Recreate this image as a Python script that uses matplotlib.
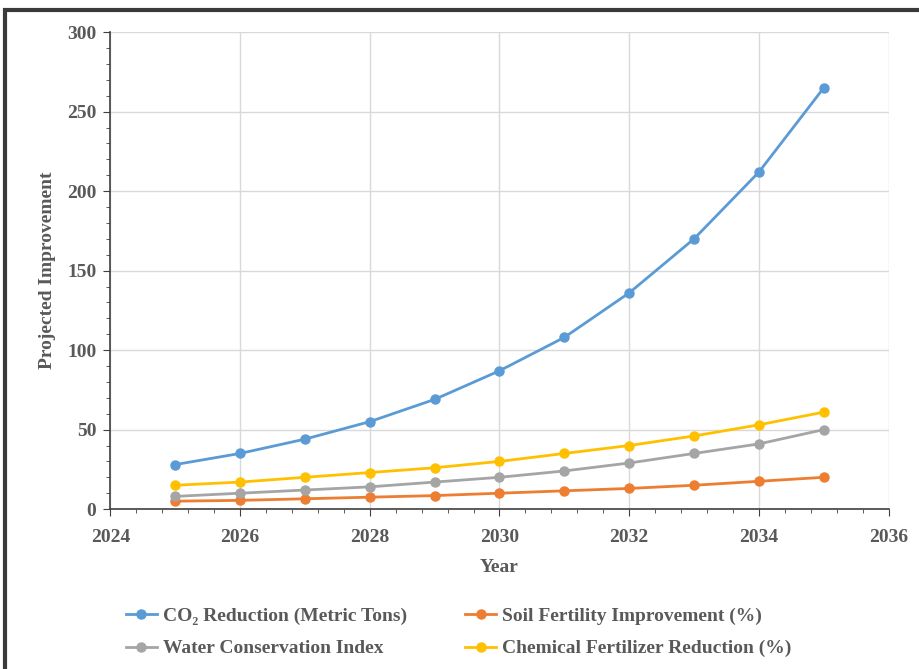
import numpy as np
import matplotlib
matplotlib.use("Agg")
import matplotlib.pyplot as plt
from matplotlib.patches import Rectangle
from matplotlib.ticker import MultipleLocator

years = [2025, 2026, 2027, 2028, 2029, 2030, 2031, 2032, 2033, 2034, 2035]
co2 = [28, 35, 44, 55, 69, 87, 108, 136, 170, 212, 265]
soil = [5, 5.5, 6.5, 7.5, 8.5, 10, 11.5, 13, 15, 17.5, 20]
water = [8, 10, 12, 14, 17, 20, 24, 29, 35, 41, 50]
chem = [15, 17, 20, 23, 26, 30, 35, 40, 46, 53, 61]

labels = ["CO\u2082 Reduction (Metric Tons)", "Soil Fertility Improvement (%)",
          "Water Conservation Index", "Chemical Fertilizer Reduction (%)"]
colors = ["#5B9BD5", "#ED7D31", "#A5A5A5", "#FFC000"]

plt.rcParams["font.family"] = ["Liberation Serif", "DejaVu Serif"]
plt.rcParams["font.weight"] = "bold"

text_col = "#595959"

fig = plt.figure(figsize=(9.19, 6.69), dpi=100)
ax = fig.add_axes([0.12, 0.239, 0.847, 0.713])

# chart frame
fig.patches.append(Rectangle((5 / 919, -0.1), 1.2, 1 - 10 / 669 + 0.1,
                             transform=fig.transFigure, fill=False,
                             edgecolor="#3a3a3a", linewidth=3))

lines = []
for vals, lab, c in zip([co2, soil, water, chem], labels, colors):
    ln, = ax.plot(years, vals, color=c, linewidth=2, marker="o",
                  markersize=6.5, label=lab)
    lines.append(ln)

ax.set_xlim(2024, 2036)
ax.set_ylim(0, 300)
ax.xaxis.set_major_locator(MultipleLocator(2))
ax.xaxis.set_minor_locator(MultipleLocator(0.4))
ax.yaxis.set_major_locator(MultipleLocator(50))
ax.yaxis.set_minor_locator(MultipleLocator(10))
ax.grid(True, which="major", color="#D9D9D9", linewidth=1)
ax.set_axisbelow(True)

for s in ["top", "right"]:
    ax.spines[s].set_visible(False)
for s in ["left", "bottom"]:
    ax.spines[s].set_color("#404040")
    ax.spines[s].set_linewidth(1.2)

ax.tick_params(which="major", length=5, color="#404040", labelsize=14,
               labelcolor=text_col, direction="out", pad=5)
ax.tick_params(axis="x", which="major", pad=9)
ax.tick_params(which="minor", length=3, color="#404040")
for t in ax.get_xticklabels() + ax.get_yticklabels():
    t.set_fontweight("bold")

ax.set_xlabel("Year", fontsize=14, color=text_col, fontweight="bold", labelpad=10)
ax.set_ylabel("Projected Improvement", fontsize=14, color=text_col,
              fontweight="bold", labelpad=8)

# legend rows: CO2 | Soil, Water | Chemical (matplotlib fills by column)
order = [0, 2, 1, 3]
fig.legend(handles=[lines[i] for i in order], loc="upper left",
           bbox_to_anchor=(0.118, 0.118), ncol=2, frameon=False,
           labelcolor=text_col, columnspacing=3.0, handlelength=1.6,
           handletextpad=0.3, labelspacing=0.75,
           prop={"weight": "bold", "size": 14})

fig.savefig("out.png", dpi=100)
